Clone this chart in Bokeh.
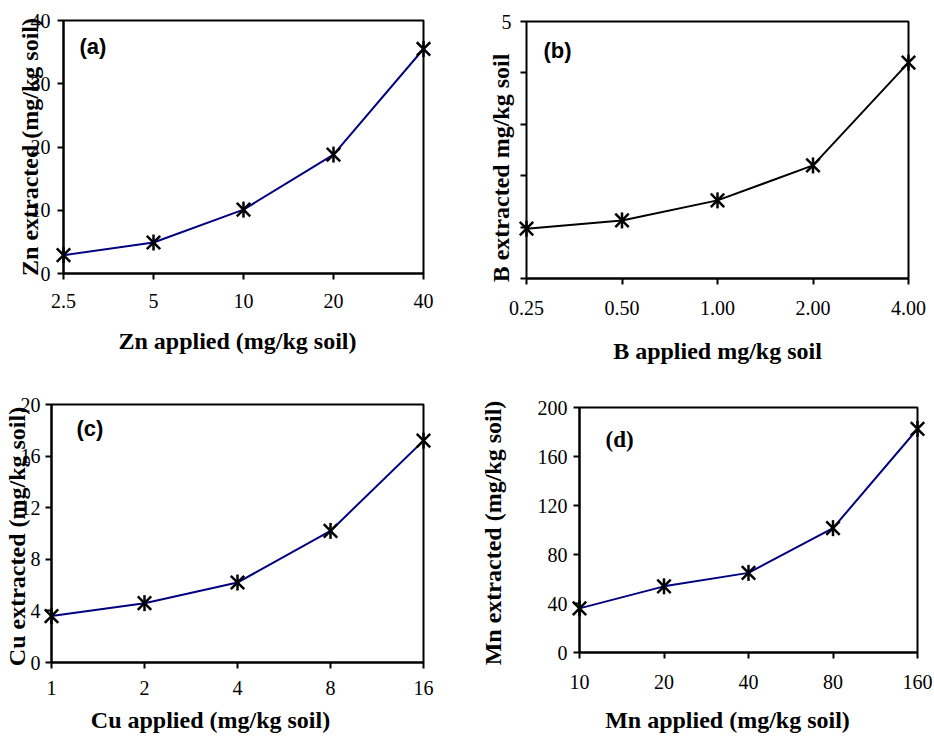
import math
from bokeh.plotting import figure
from bokeh.models import Range1d, FixedTicker, Label
from bokeh.layouts import column, row
from bokeh.embed import file_html
from bokeh.resources import INLINE

# ---------------- data ----------------
zn_applied = [2.5, 5, 10, 20, 40]
zn_extracted = [2.9, 4.9, 10.1, 18.8, 35.5]
zn_xlabels = ["2.5", "5", "10", "20", "40"]
zn_yticks = [0, 10, 20, 30, 40]
zn_ylabels = ["0", "10", "20", "30", "40"]

b_applied = [0.25, 0.5, 1.0, 2.0, 4.0]
b_extracted = [0.97, 1.13, 1.52, 2.2, 4.2]
b_xlabels = ["0.25", "0.50", "1.00", "2.00", "4.00"]
b_yticks = [0, 1, 2, 3, 4, 5]
b_ylabels = ["", "", "", "", "", "5"]

cu_applied = [1, 2, 4, 8, 16]
cu_extracted = [3.6, 4.6, 6.2, 10.2, 17.2]
cu_xlabels = ["1", "2", "4", "8", "16"]
cu_yticks = [0, 4, 8, 12, 16, 20]
cu_ylabels = ["0", "4", "8", "12", "16", "20"]

mn_applied = [10, 20, 40, 80, 160]
mn_extracted = [36, 54, 65, 101.5, 182.5]
mn_xlabels = ["10", "20", "40", "80", "160"]
mn_yticks = [0, 40, 80, 120, 160, 200]
mn_ylabels = ["0", "40", "80", "120", "160", "200"]

SERIF = "Liberation Serif"
SANS = "Liberation Sans"
NB = "\u00a0"  # non-breaking space, used only to nudge centred axis titles


def make_panel(xs, ys, xlabels, yticks, ylabels, line_color, tag, tag_font, tag_size,
               xtitle, ytitle, w, h, borders, tag_pos, xstand, ystand, xals, yals,
               yaxis_width=2, ytitle_bg=True):
    left, right, top, bottom = borders
    p = figure(width=w, height=h, x_axis_type="log",
               x_range=Range1d(xs[0], xs[-1]), y_range=Range1d(yticks[0], yticks[-1]),
               output_backend="svg", toolbar_location=None,
               min_border_left=left, min_border_right=right,
               min_border_top=top, min_border_bottom=bottom)
    p.grid.visible = False
    p.outline_line_color = "black"
    p.outline_line_width = 2
    p.background_fill_color = "white"
    p.border_fill_color = "white"

    p.xaxis.ticker = FixedTicker(ticks=xs, minor_ticks=[])
    p.xaxis.major_label_overrides = {x: s for x, s in zip(xs, xlabels)}
    p.yaxis.ticker = FixedTicker(ticks=yticks, minor_ticks=[])
    p.yaxis.major_label_overrides = {y: s for y, s in zip(yticks, ylabels)}

    for ax in (p.xaxis[0], p.yaxis[0]):
        ax.axis_line_color = "black"
        ax.axis_line_width = 2
        ax.major_tick_line_color = "black"
        ax.major_tick_line_width = 2
        ax.major_tick_out = 6
        ax.major_tick_in = 0
        ax.minor_tick_line_color = None
        ax.major_label_text_font = SERIF
        ax.major_label_text_font_size = "20px"
        ax.major_label_text_color = "black"
        ax.axis_label_text_font = SERIF
        ax.axis_label_text_font_style = "bold"
        ax.axis_label_text_font_size = "24px"
        ax.axis_label_text_color = "black"
    xa, ya = p.xaxis[0], p.yaxis[0]
    ya.axis_line_width = yaxis_width
    xa.major_label_standoff = xstand
    ya.major_label_standoff = ystand
    xa.axis_label = xtitle
    ya.axis_label = ytitle
    xa.axis_label_standoff = xals
    ya.axis_label_standoff = yals
    if ytitle_bg:
        try:
            ya.axis_label_background_fill_color = "white"
        except AttributeError:
            pass

    p.line(xs, ys, line_color=line_color, line_width=2)
    p.scatter(xs, ys, marker="x", size=19, line_color="black", line_width=2.5,
              level="overlay")
    p.scatter(xs, ys, marker="dash", angle=math.pi / 2, size=16,
              line_color="black", line_width=2.5, level="overlay")

    p.add_layout(Label(x=tag_pos[0], y=tag_pos[1], x_units="screen", y_units="screen",
                       text=tag, text_font=tag_font, text_font_style="bold",
                       text_font_size=tag_size, text_color="black",
                       text_align="left", text_baseline="middle"))
    return p


pa = make_panel(zn_applied, zn_extracted, zn_xlabels, zn_yticks, zn_ylabels, "#000080",
                "(a)", SANS, "22px", "Zn applied  (mg/kg soil)" + NB,
                "Zn extracted (mg/kg soil)",
                467, 369, (63, 44, 20, 96), (16, 227), 14, 7, 17, -15)
pb = make_panel(b_applied, b_extracted, b_xlabels, b_yticks, b_ylabels, "black",
                "(b)", SANS, "22px", NB + "B applied  mg/kg soil",
                "B extracted  mg/kg soil" + NB * 5,
                467, 369, (59, 26, 21, 91), (17, 228), 16, 9, 20, -15,
                yaxis_width=1)
pc = make_panel(cu_applied, cu_extracted, cu_xlabels, cu_yticks, cu_ylabels, "#000080",
                "(c)", SANS, "22px", "Cu applied  (mg/kg soil)" + NB * 8,
                "Cu extracted  (mg/kg soil)",
                467, 369, (50, 44, 35, 76), (25, 234), 12, 5, 9, -12)
pd_ = make_panel(mn_applied, mn_extracted, mn_xlabels, mn_yticks, mn_ylabels, "#000080",
                 "(d)", SERIF, "23px", "Mn applied (mg/kg soil)" + NB * 7,
                 "Mn extracted  (mg/kg soil)",
                 467, 369, (112, 17, 38, 86), (26, 213), 16, 6, 15, 29,
                 ytitle_bg=False)

# each plot wrapped on its own so that the rows do not align the plot frames
layout = column(row(column(pa), column(pb)), row(column(pc), column(pd_)))

with open("out.html", "w") as f:
    f.write(file_html(layout, INLINE))
